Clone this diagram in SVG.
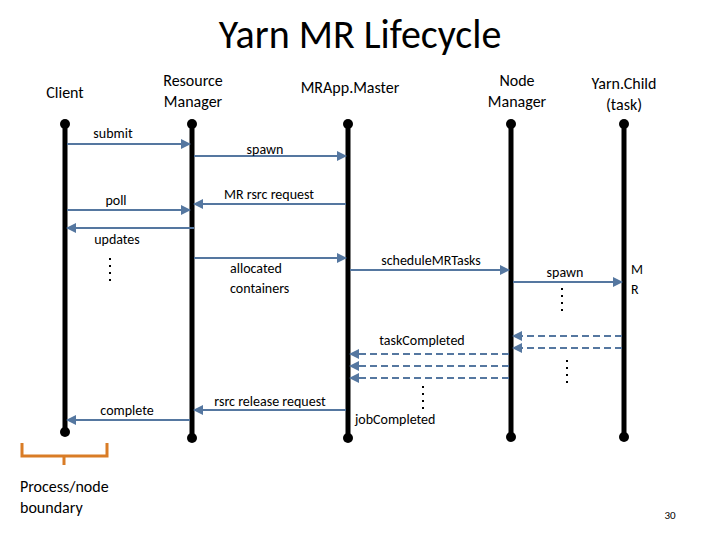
<svg xmlns="http://www.w3.org/2000/svg" width="720" height="540" viewBox="0 0 720 540">
<style>
text{font-family:Calibri,Carlito,"Liberation Sans",sans-serif;fill:#000}
.t{font-size:14px}
.h{font-size:16px}
.life{stroke:#000;stroke-width:5}
.a{stroke:#5577a0;stroke-width:2;fill:none;marker-end:url(#ah)}
.d{stroke:#5577a0;stroke-width:2;fill:none;stroke-dasharray:7,4;marker-end:url(#ah)}
.dots{stroke:#000;stroke-width:2;stroke-dasharray:2,5}
</style>
<defs><marker id="ah" viewBox="0 0 10 10" refX="9" refY="5" markerWidth="5" markerHeight="5" orient="auto"><path d="M0,0L10,5L0,10z" fill="#5577a0"/></marker></defs>
<rect width="720" height="540" fill="#fff"/>
<text x="360" y="48" font-size="40" text-anchor="middle">Yarn MR Lifecycle</text>
<g id="client"><text class="h" x="65" y="98" text-anchor="middle">Client</text><line class="life" x1="65" y1="125" x2="65" y2="432"/><circle cx="65" cy="124" r="5"/><circle cx="65" cy="432" r="5"/></g>
<g id="rm"><text class="h" x="193" y="86" text-anchor="middle">Resource</text><text class="h" x="193" y="107" text-anchor="middle">Manager</text><line class="life" x1="192" y1="125" x2="192" y2="438"/><circle cx="192" cy="124" r="5"/><circle cx="192" cy="438" r="5"/></g>
<g id="am"><text class="h" x="350" y="93" text-anchor="middle">MRApp.Master</text><line class="life" x1="348" y1="125" x2="348" y2="438"/><circle cx="348" cy="124" r="5"/><circle cx="348" cy="438" r="5"/></g>
<g id="nm"><text class="h" x="517" y="86" text-anchor="middle">Node</text><text class="h" x="517" y="107" text-anchor="middle">Manager</text><line class="life" x1="511" y1="125" x2="511" y2="437"/><circle cx="511" cy="124" r="5"/><circle cx="511" cy="437" r="5"/></g>
<g id="child"><text class="h" x="624" y="89" text-anchor="middle">Yarn.Child</text><text class="h" x="624" y="110" text-anchor="middle">(task)</text><line class="life" x1="624" y1="125" x2="624" y2="437"/><circle cx="624" cy="124" r="5"/><circle cx="624" cy="437" r="5"/></g>
<g id="connectors">
<line class="a" x1="67" y1="144" x2="190" y2="144"/>
<line class="a" x1="194" y1="156" x2="346" y2="156"/>
<line class="a" x1="346" y1="204" x2="194" y2="204"/>
<line class="a" x1="67" y1="210" x2="190" y2="210"/>
<line class="a" x1="194" y1="228" x2="67" y2="228"/>
<line class="a" x1="194" y1="258" x2="346" y2="258"/>
<line class="a" x1="350" y1="270" x2="509" y2="270"/>
<line class="a" x1="513" y1="282" x2="622" y2="282"/>
<line class="d" x1="622" y1="336" x2="513" y2="336"/>
<line class="d" x1="622" y1="348" x2="513" y2="348"/>
<line class="d" x1="509" y1="354" x2="350" y2="354"/>
<line class="d" x1="509" y1="366" x2="350" y2="366"/>
<line class="d" x1="509" y1="378" x2="350" y2="378"/>
<line class="a" x1="346" y1="410" x2="194" y2="410"/>
<line class="a" x1="190" y1="420" x2="67" y2="420"/>
<line class="dots" x1="110" y1="258" x2="110" y2="282"/>
<line class="dots" x1="562" y1="288" x2="562" y2="312"/>
<line class="dots" x1="567" y1="360" x2="567" y2="386"/>
<line class="dots" x1="423" y1="386" x2="423" y2="410"/>
</g>
<text class="t" x="113" y="138" text-anchor="middle">submit</text>
<text class="t" x="265" y="154" text-anchor="middle">spawn</text>
<text class="t" x="269" y="199" text-anchor="middle">MR rsrc request</text>
<text class="t" x="116" y="205" text-anchor="middle">poll</text>
<text class="t" x="117" y="244" text-anchor="middle">updates</text>
<text class="t" x="230" y="273">allocated</text>
<text class="t" x="230" y="293">containers</text>
<text class="t" x="431" y="265" text-anchor="middle">scheduleMRTasks</text>
<text class="t" x="565" y="277" text-anchor="middle">spawn</text>
<text class="t" x="631" y="274">M</text>
<text class="t" x="631" y="294">R</text>
<text class="t" x="422" y="345" text-anchor="middle">taskCompleted</text>
<text class="t" x="270" y="406" text-anchor="middle">rsrc release request</text>
<text class="t" x="127" y="415" text-anchor="middle">complete</text>
<text class="t" x="355" y="424">jobCompleted</text>
<path d="M22,443V456H64V465M64,456H107V443" fill="none" stroke="#d97c26" stroke-width="3"/>
<text class="h" x="20" y="492">Process/node</text>
<text class="h" x="20" y="513">boundary</text>
<text x="670" y="519" font-size="11" text-anchor="middle">30</text>
</svg>
